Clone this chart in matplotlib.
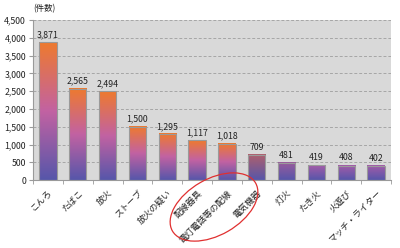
import numpy as np
import matplotlib
matplotlib.use("Agg")
import matplotlib.pyplot as plt
from matplotlib.colors import LinearSegmentedColormap
from matplotlib.patches import Ellipse

plt.rcParams['font.family'] = ['Noto Sans CJK JP', 'DejaVu Sans']

categories = ['こんろ', 'たばこ', '放火', 'ストーブ', '放火の疑い', '配線器具',
              '電灯電話等の配線', '電気機器', '灯火', 'たき火', '火遊び', 'マッチ・ライター']
counts = [3871, 2565, 2494, 1500, 1295, 1117, 1018, 709, 481, 419, 408, 402]
yticks = [0, 500, 1000, 1500, 2000, 2500, 3000, 3500, 4000, 4500]

# top colour of each bar's gradient (small bars look duller in the picture)
top_colors = ['#ee7a2e'] * 7 + ['#b0606c', '#9a5c9c', '#a45ca8', '#a45ca8', '#a45ca8']
mid_color = '#c262a2'
bottom_color = '#5656aa'

fig = plt.figure(figsize=(4.0, 2.48), dpi=100)
ax = fig.add_axes([0.0825, 0.274, 0.895, 0.645])
ax.set_facecolor('#d9d9d9')

x = np.arange(len(categories))
w = 0.58
grad = np.linspace(1, 0, 256).reshape(-1, 1)
for i, v in enumerate(counts):
    if i < 7:
        cmap = LinearSegmentedColormap.from_list('g', [(0, bottom_color), (0.5, mid_color), (1, top_colors[i])])
    else:
        cmap = LinearSegmentedColormap.from_list('g', [(0, bottom_color), (1, top_colors[i])])
    ax.imshow(grad, cmap=cmap, vmin=0, vmax=1, extent=(i - w / 2, i + w / 2, 0, v),
              aspect='auto', zorder=2, interpolation='bilinear')
ax.bar(x, counts, width=w, facecolor='none', edgecolor='#9a9a9a', linewidth=0.8, zorder=3)

for i, v in enumerate(counts):
    ax.text(i, v + 90, f'{v:,}', ha='center', va='bottom', fontsize=6.3, color='#222222', zorder=4)

ax.set_xlim(-0.5, len(categories) - 0.5)
ax.set_ylim(0, 4500)
ax.set_yticks(yticks)
ax.set_yticklabels([f'{t:,}' for t in yticks], fontsize=6.3, color='#222222')
ax.yaxis.grid(True, linestyle=(0, (3, 2)), color='#a6a6a6', linewidth=0.7, zorder=1)
ax.set_axisbelow(True)

ax.set_xticks(x)
ax.set_xticklabels(categories, rotation=45, ha='right', rotation_mode='anchor', fontsize=6.3, color='#222222')
ax.set_xticks(np.arange(-0.5, len(categories), 1), minor=True)
ax.tick_params(axis='x', which='major', length=0, pad=6)
ax.tick_params(axis='x', which='minor', length=3, color='#9a9a9a')
ax.tick_params(axis='y', length=3, color='#9a9a9a', pad=2)

for s in ['top', 'right']:
    ax.spines[s].set_visible(False)
for s in ['left', 'bottom']:
    ax.spines[s].set_color('#9a9a9a')
    ax.spines[s].set_linewidth(0.8)

fig.text(33 / 400, 1 - 9 / 248, '(件数)', fontsize=6, ha='left', va='center', color='#222222')

# red ellipse around the electrical categories (in inches from lower left)
ell = Ellipse((2.14, 0.41), 0.96, 0.56, angle=30,
              transform=fig.dpi_scale_trans, fill=False, edgecolor='#e03030', linewidth=0.9)
fig.patches.append(ell)

fig.savefig('out.png', dpi=100)
